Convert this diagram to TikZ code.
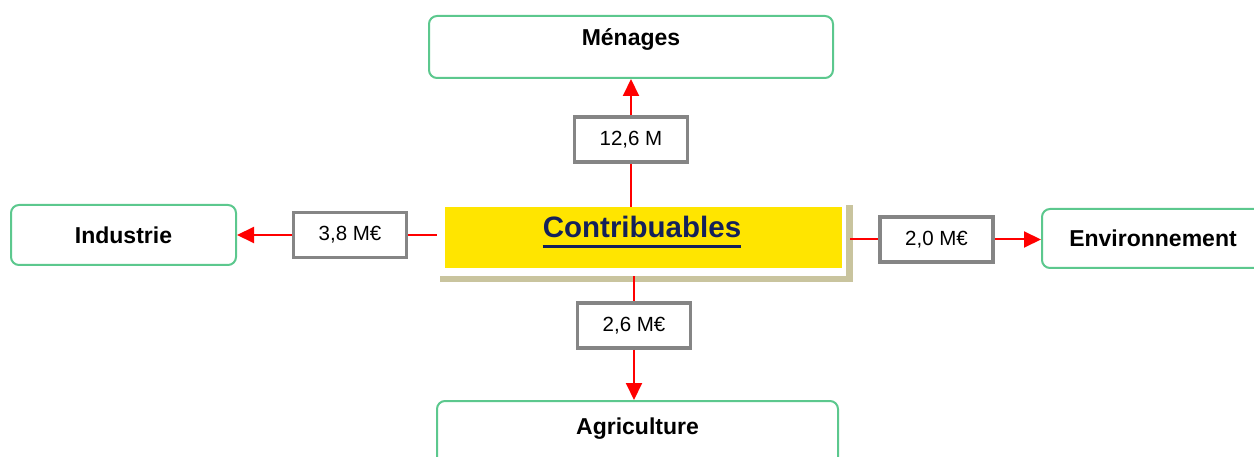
\documentclass[tikz,border=0pt]{standalone}
\usepackage{fontspec}
\setmainfont{Liberation Sans}
\usepackage{xcolor}
\usetikzlibrary{arrows.meta}
\usetikzlibrary{calc}

\definecolor{boxgreen}{HTML}{5CC88E}
\definecolor{boxgray}{HTML}{858585}
\definecolor{taxyellow}{HTML}{FFE500}
\definecolor{taxnavy}{HTML}{14215A}
\definecolor{taxshadow}{HTML}{C9C49E}

\tikzset{
  sector/.style={draw=boxgreen, line width=2pt, rounded corners=8pt, fill=white, inner sep=0pt, font=\bfseries\fontsize{23}{27}\selectfont},
  amount/.style={draw=boxgray, line width=3.5pt, fill=white, minimum width=113pt, minimum height=45pt, inner sep=0pt, font=\fontsize{20.5}{24}\selectfont},
  flow/.style={draw=red, line width=2pt},
  flowarrow/.style={flow, -{Triangle[width=16pt,length=17pt]}},
}

\begin{document}
\begin{tikzpicture}[x=1pt, y=-1pt]
    \clip (0,0) rectangle (1254,457);

    % bevel behind the yellow box
    \fill[taxshadow] (440,205) rectangle (853,282);
    \fill[white] (440,203) rectangle (846,276);

    \node[fill=taxyellow, minimum width=397pt, minimum height=61pt, inner sep=0pt] (contrib) at (643.5,237.5) {};
    \node[anchor=base, inner sep=0pt, text=taxnavy, font=\bfseries\fontsize{29.5}{32}\selectfont] (contribtext) at (642,238) {Contribuables};
    \draw[taxnavy, line width=3pt] ($(contribtext.base west)+(0,9)$) -- ($(contribtext.base east)+(0,9)$);

    \node[sector, anchor=north, minimum width=404pt, text height=30pt, text depth=32pt] (menages) at (631,15) {Ménages};
    \node[sector, anchor=north, minimum width=401pt, text height=33pt, text depth=33pt] (agri) at (637.5,400) {Agriculture};
    \node[sector, minimum width=225pt, minimum height=60pt] (industrie) at (123.5,235) {Industrie};
    \node[sector, minimum width=222pt, minimum height=59pt] (environ) at (1153,238.5) {Environnement};

    \node[amount] (m12) at (631,139.5) {12,6 M};
    \node[amount] (m38) at (350,235) {3,8 M€};
    \node[amount] (m20) at (936.5,239.5) {2,0 M€};
    \node[amount] (m26) at (634,325.5) {2,6 M€};

    \draw[flow] (contrib.north -| m12) -- (m12.south);
    \draw[flowarrow] (m12.north) -- (m12.north |- menages.south);

    \draw[flow, shorten <=8pt] (contrib.west |- m38) -- (m38.east);
    \draw[flowarrow] (m38.west) -- (m38.west -| industrie.east);

    \draw[flow, shorten <=8pt] (contrib.east |- m20) -- (m20.west);
    \draw[flowarrow] (m20.east) -- (m20.east -| environ.west);

    \draw[flow, shorten <=8pt] (contrib.south -| m26) -- (m26.north);
    \draw[flowarrow] (m26.south) -- (m26.south |- agri.north);
\end{tikzpicture}
\end{document}
